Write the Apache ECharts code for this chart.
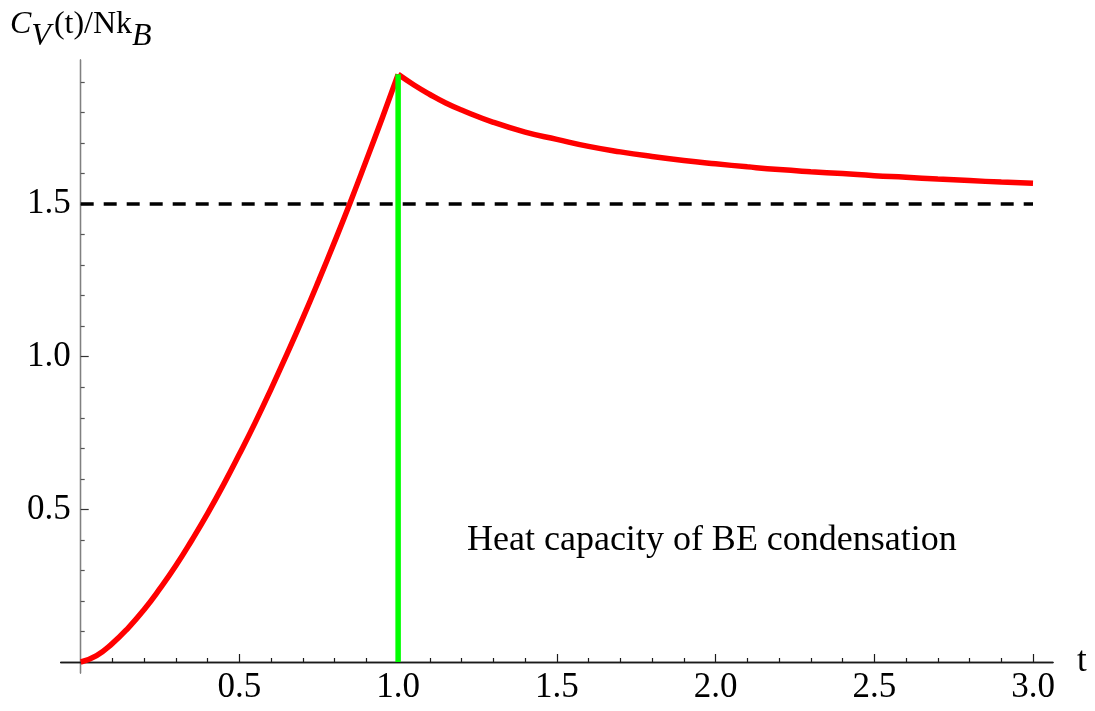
<!DOCTYPE html>
<html>
<head>
<meta charset="utf-8">
<script src="https://cdn.jsdelivr.net/npm/echarts@6/dist/echarts.min.js"></script>
<style>html,body{margin:0;padding:0;background:#fff;}#c{width:1095px;height:711px;}</style>
</head>
<body>
<div id="c"></div>
<script>
// Below the transition (t <= 1)
const tLow  = [0, 0.05, 0.1, 0.15, 0.2, 0.25, 0.3, 0.35, 0.4, 0.45, 0.5, 0.55, 0.6, 0.65, 0.7, 0.75, 0.8, 0.85, 0.9, 0.95, 1.0];
const cvLow = [0, 0.021, 0.061, 0.112, 0.172, 0.241, 0.316, 0.399, 0.487, 0.581, 0.681, 0.785, 0.895, 1.009, 1.127, 1.250, 1.377, 1.508, 1.644, 1.782, 1.925];
// Above the transition (t >= 1)
const tHigh  = [1.0, 1.05, 1.1, 1.15, 1.2, 1.3, 1.4, 1.5, 1.6, 1.7, 1.8, 1.9, 2.0, 2.1, 2.2, 2.3, 2.4, 2.5, 2.6, 2.7, 2.8, 2.9, 3.0];
const cvHigh = [1.925, 1.890, 1.859, 1.831, 1.808, 1.768, 1.736, 1.712, 1.689, 1.671, 1.656, 1.643, 1.632, 1.622, 1.613, 1.606, 1.600, 1.593, 1.588, 1.582, 1.577, 1.572, 1.568];
// Critical temperature marker and classical limit
const tCritical = [1.0, 1.0];
const cvCritical = [0, 1.925];
const tClassical = [0, 3.0];
const cvClassical = [1.5, 1.5];
// Ticks
const xMajor = [0.5, 1.0, 1.5, 2.0, 2.5, 3.0];
const xMinor = [0.1,0.2,0.3,0.4,0.6,0.7,0.8,0.9,1.1,1.2,1.3,1.4,1.6,1.7,1.8,1.9,2.1,2.2,2.3,2.4,2.6,2.7,2.8,2.9];
const yMajor = [0.5, 1.0, 1.5];
const yMinor = [0.1,0.2,0.3,0.4,0.6,0.7,0.8,0.9,1.1,1.2,1.3,1.4,1.6,1.7,1.8,1.9];
const annotation = 'Heat capacity of BE condensation';

const FONT = '"Liberation Serif", "Times New Roman", serif';
const FS = 35;
const xMin = -0.063, xMax = 3.063, yMin = -0.036, yMax = 1.972;
const zip = (a, b) => a.map((v, i) => [v, b[i]]);

const chart = echarts.init(document.getElementById('c'), null, {renderer: 'canvas'});
const gridBox = {left: 60.7, right: 42, top: 60, bottom: 38, containLabel: false};
chart.setOption({
  animation: false,
  backgroundColor: '#fff',
  title: {
    left: 10, top: 9, padding: 0,
    text: '{i|C}{subV|V}{r|(t)/Nk}{sub|B}',
    textStyle: {
      fontWeight: 'normal',
      rich: {
        i: {fontFamily: FONT, fontSize: 32, fontStyle: 'italic', fontWeight: 'normal', color: '#000', lineHeight: 32, verticalAlign: 'top'},
        r: {fontFamily: FONT, fontSize: 32, fontWeight: 'normal', color: '#000', lineHeight: 32, verticalAlign: 'top', padding: [0, 0, 0, 3]},
        subV: {fontFamily: FONT, fontSize: 32, fontStyle: 'italic', fontWeight: 'normal', color: '#000', lineHeight: 44, verticalAlign: 'bottom'},
        sub: {fontFamily: FONT, fontSize: 32, fontStyle: 'italic', fontWeight: 'normal', color: '#000', lineHeight: 44, verticalAlign: 'bottom'}
      }
    }
  },
  grid: [Object.assign({}, gridBox), Object.assign({}, gridBox)],
  xAxis: [
    {
      type: 'value', gridIndex: 0, min: xMin, max: xMax,
      name: 't', nameLocation: 'end', nameGap: 24,
      nameTextStyle: {fontFamily: FONT, fontSize: FS, color: '#000', verticalAlign: 'middle'},
      axisLine: {show: true, onZero: true, lineStyle: {color: '#1a1a1a', width: 1.3}},
      axisTick: {show: true, inside: true, length: 8, customValues: xMajor, lineStyle: {color: '#1a1a1a', width: 1.2}},
      axisLabel: {show: true, customValues: xMajor, margin: -3, fontFamily: FONT, fontSize: FS, color: '#000',
                  formatter: v => Number(v).toFixed(1)},
      splitLine: {show: false}
    },
    {
      type: 'value', gridIndex: 1, min: xMin, max: xMax,
      axisLine: {show: true, onZero: true, lineStyle: {color: '#1a1a1a', width: 1.3}},
      axisTick: {show: true, inside: true, length: 4, customValues: xMinor, lineStyle: {color: '#1a1a1a', width: 1.2}},
      axisLabel: {show: false},
      splitLine: {show: false}
    }
  ],
  yAxis: [
    {
      type: 'value', gridIndex: 0, min: yMin, max: yMax,
      axisLine: {show: true, onZero: true, lineStyle: {color: '#808080', width: 1.3}},
      axisTick: {show: true, inside: true, length: 8, customValues: yMajor, lineStyle: {color: '#333', width: 1.2}},
      axisLabel: {show: true, customValues: yMajor, margin: -10, fontFamily: FONT, fontSize: FS, color: '#000',
                  formatter: v => Number(v).toFixed(1)},
      splitLine: {show: false}
    },
    {
      type: 'value', gridIndex: 1, min: yMin, max: yMax,
      axisLine: {show: true, onZero: true, lineStyle: {color: '#808080', width: 1.3}},
      axisTick: {show: true, inside: true, length: 4, customValues: yMinor, lineStyle: {color: '#555', width: 1.2}},
      axisLabel: {show: false},
      splitLine: {show: false}
    }
  ],
  graphic: [{
    type: 'text', left: 467, top: 523, z: 100,
    style: {text: annotation, font: '36px ' + FONT, fill: '#000'}
  }],
  series: [
    {
      type: 'line', xAxisIndex: 0, yAxisIndex: 0, data: zip(tClassical, cvClassical),
      symbol: 'none', silent: true,
      lineStyle: {color: '#000', width: 3.5, type: [13, 10]}
    },
    {
      type: 'line', xAxisIndex: 0, yAxisIndex: 0, data: zip(tLow, cvLow), smooth: true,
      symbol: 'none', lineStyle: {color: '#ff0000', width: 5.5}
    },
    {
      type: 'line', xAxisIndex: 0, yAxisIndex: 0, data: zip(tHigh, cvHigh), smooth: true,
      symbol: 'none', lineStyle: {color: '#ff0000', width: 5.5}
    },
    {
      type: 'line', xAxisIndex: 0, yAxisIndex: 0, data: zip(tCritical, cvCritical),
      symbol: 'none', lineStyle: {color: '#00ff00', width: 5.5}
    }
  ]
});
</script>
</body>
</html>
